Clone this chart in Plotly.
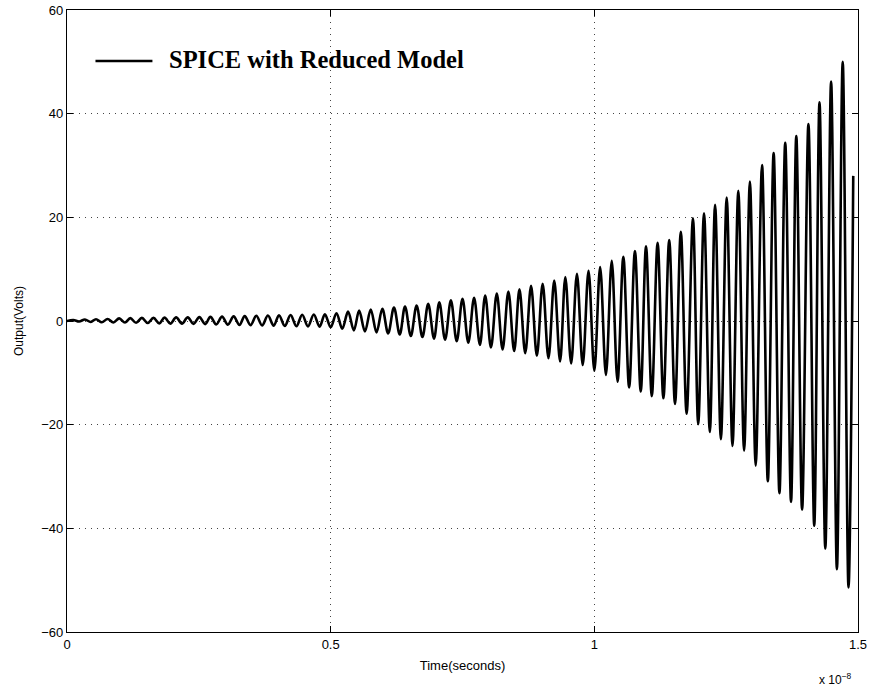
import plotly.graph_objects as go

# Output voltage extrema of the SPICE transient run (time in units of 1e-8 s)
peak_t = [0.012, 0.034, 0.055, 0.077, 0.099, 0.120, 0.142, 0.164, 0.185, 0.207,
          0.229, 0.251, 0.272, 0.294, 0.316, 0.337, 0.359, 0.381, 0.402, 0.424,
          0.446, 0.468, 0.489,
          0.511, 0.533, 0.554, 0.576, 0.598, 0.620, 0.641, 0.663, 0.685, 0.706,
          0.728, 0.750, 0.772, 0.793, 0.815, 0.837, 0.858, 0.880, 0.902, 0.924,
          0.945, 0.967, 0.989,
          1.011, 1.033, 1.055, 1.077, 1.098, 1.120, 1.142, 1.164, 1.187, 1.208,
          1.229, 1.251, 1.273, 1.295, 1.318, 1.340, 1.362, 1.383, 1.406, 1.427,
          1.449, 1.471]
peak_v = [0.2, 0.3, 0.35, 0.4, 0.5, 0.55, 0.6, 0.6, 0.65, 0.7,
          0.7, 0.75, 0.8, 0.85, 0.9, 0.95, 1.0, 1.05, 1.1, 1.15,
          1.2, 1.25, 1.3,
          1.5, 1.8, 2.0, 2.2, 2.35, 2.6, 2.8, 3.0, 3.3, 3.6,
          4.0, 4.3, 4.5, 4.9, 5.3, 5.7, 6.1, 6.8, 7.2, 7.8,
          8.5, 9.1, 9.7,
          10.4, 11.6, 12.4, 13.5, 14.4, 15.1, 15.6, 17.2, 19.8, 20.8,
          22.4, 23.8, 25.1, 26.9, 30.1, 32.4, 34.4, 35.7, 38.0, 42.2,
          46.2, 50.0]

trough_t = [0.023, 0.045, 0.066, 0.088, 0.110, 0.131, 0.153, 0.175, 0.196, 0.218,
            0.240, 0.262, 0.283, 0.305, 0.327, 0.348, 0.370, 0.392, 0.413, 0.435,
            0.457, 0.479,
            0.500, 0.522, 0.544, 0.565, 0.587, 0.609, 0.631, 0.652, 0.674, 0.696,
            0.717, 0.739, 0.761, 0.783, 0.804, 0.826, 0.848, 0.869, 0.891, 0.913,
            0.935, 0.956, 0.978, 1.000,
            1.022, 1.044, 1.066, 1.088, 1.109, 1.131, 1.153, 1.175, 1.197, 1.219,
            1.240, 1.262, 1.284, 1.306, 1.329, 1.351, 1.373, 1.394, 1.417, 1.438,
            1.460, 1.482]
trough_v = [-0.1, -0.2, -0.25, -0.3, -0.3, -0.35, -0.4, -0.45, -0.5, -0.5,
            -0.55, -0.6, -0.65, -0.7, -0.75, -0.8, -0.85, -0.9, -0.95, -1.0,
            -1.05, -1.1,
            -1.2, -1.5, -1.8, -2.0, -2.2, -2.4, -2.6, -2.9, -3.1, -3.4,
            -3.6, -3.9, -4.2, -4.6, -5.1, -5.5, -5.8, -6.2, -6.7, -7.2,
            -7.8, -8.2, -8.5, -9.6,
            -10.4, -11.7, -12.8, -13.6, -14.5, -14.9, -16.0, -17.9, -19.9, -21.4,
            -22.8, -24.1, -25.0, -27.9, -30.9, -33.2, -34.9, -36.4, -39.5, -43.9,
            -47.9, -51.4]

# first and last samples of the run
edge_t = [0.0, 1.491]
edge_v = [0.0, 28.0]

x_ticks = [0, 0.5, 1, 1.5]
x_tick_text = ["0", "0.5", "1", "1.5"]
y_ticks = [-60, -40, -20, 0, 20, 40, 60]

samples = sorted(zip(peak_t + trough_t + edge_t, peak_v + trough_v + edge_v))
t = [s[0] for s in samples]
v = [s[1] for s in samples]

fig = go.Figure()
fig.add_trace(go.Scatter(
    x=t, y=v, mode="lines",
    line=dict(color="black", width=2.6, shape="spline", smoothing=1.0),
    name="SPICE with Reduced Model", showlegend=False,
    hoverinfo="skip",
))

sans = "Liberation Sans, Arial, sans-serif"
axis_common = dict(
    showline=True, linecolor="black", linewidth=1.3, mirror="allticks",
    ticks="inside", ticklen=6, tickcolor="black",
    showgrid=True, gridcolor="#444444", griddash="1px,5px", gridwidth=1.3,
    zeroline=False, automargin=False,
    tickfont=dict(family=sans, size=13, color="black"),
)

fig.update_xaxes(range=[0, 1.5], tickvals=x_ticks, ticktext=x_tick_text,
                 title=dict(text="Time(seconds)", standoff=10,
                            font=dict(family=sans, size=13, color="black")),
                 **axis_common)
fig.update_yaxes(range=[-60, 60], tickvals=y_ticks,
                 title=dict(text="Output(Volts)", standoff=14,
                            font=dict(family=sans, size=12, color="black")),
                 **axis_common)

# legend entry: line sample plus label
fig.add_shape(type="line", xref="paper", yref="paper",
              x0=0.036, x1=0.108, y0=0.918, y1=0.918,
              line=dict(color="black", width=2.5))
fig.add_annotation(xref="paper", yref="paper", x=0.127, y=0.92,
                   xanchor="left", yanchor="middle", showarrow=False,
                   text="<b>SPICE with Reduced Model</b>",
                   font=dict(family="Liberation Serif, Times New Roman, serif", size=24.5, color="black"))

# axis exponent
fig.add_annotation(xref="paper", yref="paper", x=0.972, y=-0.06,
                   xanchor="center", yanchor="top", showarrow=False,
                   text="x 10<sup>\u22128</sup>",
                   font=dict(family=sans, size=12, color="black"))

fig.update_layout(
    width=870, height=686,
    margin=dict(l=67, r=12, t=10, b=54),
    paper_bgcolor="white", plot_bgcolor="white",
    showlegend=False,
)

fig.write_html("out.html")
